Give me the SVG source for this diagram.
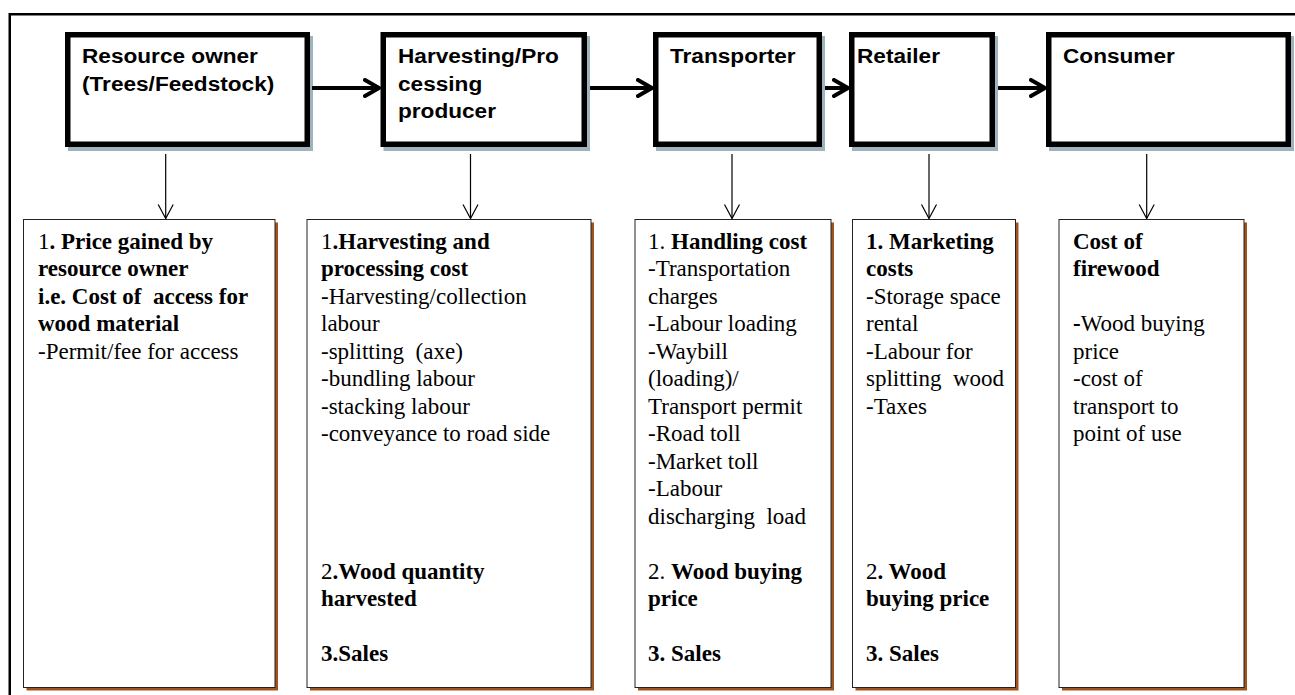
<svg xmlns="http://www.w3.org/2000/svg" width="1295" height="695" viewBox="0 0 1295 695">
<style>
.frame{fill:none;stroke:#000;stroke-width:2.5}
.tbox{fill:#fff;stroke:#000;stroke-width:5.5}
.tshadow{fill:#9fb3bf}
.bbox{fill:#fff;stroke:#222;stroke-width:1}
.bshadow{fill:#a0541d}
.title{font-family:"Liberation Sans",Arial,sans-serif;font-weight:bold;font-size:19.5px;fill:#000}
.body{font-family:"Liberation Serif","Times New Roman",serif;font-size:23px;fill:#000}
.b{font-weight:bold}
.thick{fill:none;stroke:#000;stroke-width:4}
.thin{fill:none;stroke:#000;stroke-width:1.2}
</style>
<defs>
<marker id="headThick" viewBox="0 0 18 20" refX="16" refY="10" markerWidth="18" markerHeight="20" markerUnits="userSpaceOnUse" orient="auto">
<path d="M2,2 L16,10 L2,18" fill="none" stroke="#000" stroke-width="4" stroke-linecap="round" stroke-linejoin="round"/>
</marker>
<marker id="headThin" viewBox="0 0 16 18" refX="15" refY="9" markerWidth="16" markerHeight="18" markerUnits="userSpaceOnUse" orient="auto">
<path d="M1,1.5 L15,9 L1,16.5" fill="none" stroke="#000" stroke-width="1.2"/>
</marker>
</defs>
<rect x="0" y="0" width="1295" height="695" fill="#fff"/>
<rect class="frame" x="9.75" y="14.25" width="1400" height="800"/>

<g id="resource-owner">
<rect class="tshadow" x="68" y="36" width="245" height="115"/>
<rect class="tbox" x="67.75" y="34.75" width="239.5" height="109.5"/>
<text class="title" transform="translate(82,63) scale(1.16,1)">Resource owner</text>
<text class="title" transform="translate(82,91) scale(1.16,1)">(Trees/Feedstock)</text>
</g>

<g id="harvesting-producer">
<rect class="tshadow" x="383.5" y="36" width="206.5" height="115"/>
<rect class="tbox" x="383.25" y="34.75" width="201" height="109.5"/>
<text class="title" transform="translate(398,63) scale(1.16,1)">Harvesting/Pro</text>
<text class="title" transform="translate(398,91) scale(1.16,1)">cessing</text>
<text class="title" transform="translate(398,118) scale(1.16,1)">producer</text>
</g>

<g id="transporter">
<rect class="tshadow" x="656" y="36" width="169" height="115"/>
<rect class="tbox" x="655.75" y="34.75" width="163.5" height="109.5"/>
<text class="title" transform="translate(670,63) scale(1.16,1)">Transporter</text>
</g>

<g id="retailer">
<rect class="tshadow" x="852" y="36" width="146" height="115"/>
<rect class="tbox" x="851.75" y="34.75" width="140.5" height="109.5"/>
<text class="title" transform="translate(857,63) scale(1.16,1)">Retailer</text>
</g>

<g id="consumer">
<rect class="tshadow" x="1049" y="36" width="245" height="115"/>
<rect class="tbox" x="1048.75" y="34.75" width="239.5" height="109.5"/>
<text class="title" transform="translate(1063,63) scale(1.16,1)">Consumer</text>
</g>

<g id="connectors">
<line class="thick" x1="312" y1="88" x2="379" y2="88" marker-end="url(#headThick)"/>
<line class="thick" x1="590" y1="88" x2="652" y2="88" marker-end="url(#headThick)"/>
<line class="thick" x1="825" y1="88" x2="848" y2="88" marker-end="url(#headThick)"/>
<line class="thick" x1="998" y1="88" x2="1045" y2="88" marker-end="url(#headThick)"/>
<line class="thin" x1="165.7" y1="154" x2="165.7" y2="218.5" marker-end="url(#headThin)"/>
<line class="thin" x1="470.5" y1="154" x2="470.5" y2="218.5" marker-end="url(#headThin)"/>
<line class="thin" x1="732" y1="154" x2="732" y2="218.5" marker-end="url(#headThin)"/>
<line class="thin" x1="929" y1="154" x2="929" y2="218.5" marker-end="url(#headThin)"/>
<line class="thin" x1="1146.7" y1="154" x2="1146.7" y2="218.5" marker-end="url(#headThin)"/>
</g>

<g id="owner-costs">
<rect class="bshadow" x="26.5" y="222.5" width="251.5" height="468"/>
<rect class="bbox" x="23.5" y="219.5" width="251.5" height="468"/>
<text class="body" x="38" y="248.5">1<tspan class="b">. Price gained by</tspan></text>
<text class="body b" x="38" y="276">resource owner</text>
<text class="body b" x="38" y="303.5" xml:space="preserve">i.e. Cost of  access for</text>
<text class="body b" x="38" y="331">wood material</text>
<text class="body" x="38" y="358.5">-Permit/fee for access</text>
</g>

<g id="producer-costs">
<rect class="bshadow" x="310" y="222.5" width="284" height="468"/>
<rect class="bbox" x="307" y="219.5" width="284" height="468"/>
<text class="body" x="321" y="248.5">1<tspan class="b">.Harvesting and</tspan></text>
<text class="body b" x="321" y="276">processing cost</text>
<text class="body" x="321" y="303.5">-Harvesting/collection</text>
<text class="body" x="321" y="331">labour</text>
<text class="body" x="321" y="358.5" xml:space="preserve">-splitting  (axe)</text>
<text class="body" x="321" y="386">-bundling labour</text>
<text class="body" x="321" y="413.5">-stacking labour</text>
<text class="body" x="321" y="441">-conveyance to road side</text>
<text class="body" x="321" y="578.5">2<tspan class="b">.Wood quantity</tspan></text>
<text class="body b" x="321" y="606">harvested</text>
<text class="body b" x="321" y="661">3.Sales</text>
</g>

<g id="transporter-costs">
<rect class="bshadow" x="638" y="222.5" width="196" height="468"/>
<rect class="bbox" x="635" y="219.5" width="196" height="468"/>
<text class="body" x="648" y="248.5" xml:space="preserve">1. <tspan class="b">Handling cost</tspan></text>
<text class="body" x="648" y="276">-Transportation</text>
<text class="body" x="648" y="303.5">charges</text>
<text class="body" x="648" y="331">-Labour loading</text>
<text class="body" x="648" y="358.5">-Waybill</text>
<text class="body" x="648" y="386">(loading)/</text>
<text class="body" x="648" y="413.5">Transport permit</text>
<text class="body" x="648" y="441">-Road toll</text>
<text class="body" x="648" y="468.5">-Market toll</text>
<text class="body" x="648" y="496">-Labour</text>
<text class="body" x="648" y="523.5" xml:space="preserve">discharging  load</text>
<text class="body" x="648" y="578.5" xml:space="preserve">2. <tspan class="b">Wood buying</tspan></text>
<text class="body b" x="648" y="606">price</text>
<text class="body b" x="648" y="661">3. Sales</text>
</g>

<g id="retailer-costs">
<rect class="bshadow" x="855.5" y="222.5" width="163" height="468"/>
<rect class="bbox" x="852.5" y="219.5" width="163" height="468"/>
<text class="body b" x="866" y="248.5">1. Marketing</text>
<text class="body b" x="866" y="276">costs</text>
<text class="body" x="866" y="303.5">-Storage space</text>
<text class="body" x="866" y="331">rental</text>
<text class="body" x="866" y="358.5">-Labour for</text>
<text class="body" x="866" y="386" xml:space="preserve">splitting  wood</text>
<text class="body" x="866" y="413.5">-Taxes</text>
<text class="body" x="866" y="578.5">2<tspan class="b">. Wood</tspan></text>
<text class="body b" x="866" y="606">buying price</text>
<text class="body b" x="866" y="661">3. Sales</text>
</g>

<g id="consumer-costs">
<rect class="bshadow" x="1062" y="222.5" width="185" height="468"/>
<rect class="bbox" x="1059" y="219.5" width="185" height="468"/>
<text class="body b" x="1073" y="248.5">Cost of</text>
<text class="body b" x="1073" y="276">firewood</text>
<text class="body" x="1073" y="331"><tspan class="b">-</tspan>Wood buying</text>
<text class="body" x="1073" y="358.5">price</text>
<text class="body" x="1073" y="386">-cost of</text>
<text class="body" x="1073" y="413.5">transport to</text>
<text class="body" x="1073" y="441">point of use</text>
</g>
</svg>
